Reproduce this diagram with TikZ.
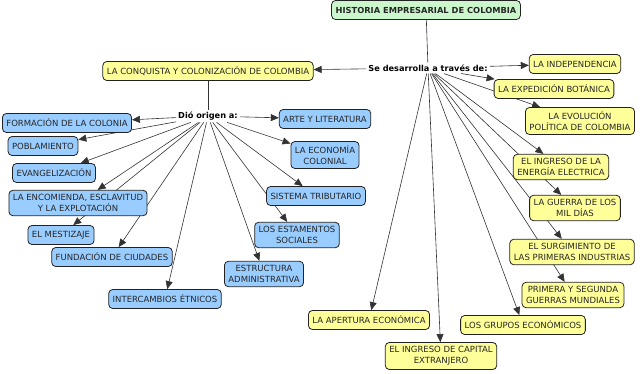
\documentclass[tikz,border=0pt]{standalone}
\usepackage{fontspec}
\setmainfont{DejaVu Sans}
\usetikzlibrary{arrows.meta,backgrounds}
\definecolor{cmGreen}{HTML}{CCF7CC}
\definecolor{cmYellow}{HTML}{FFFF99}
\definecolor{cmBlue}{HTML}{99CCFF}
\definecolor{cmLine}{HTML}{222222}
\tikzset{
    concept/.style={draw=cmLine,line width=0.8pt,rounded corners=4pt,align=center,
        inner xsep=4pt,inner ysep=4pt,minimum height=19pt,text=black!85,
        font=\fontsize{8.5}{11}\selectfont},
    rootbox/.style={concept,fill=cmGreen,font=\fontsize{8.3}{11}\selectfont\bfseries},
    eventbox/.style={concept,fill=cmYellow},
    colbox/.style={concept,fill=cmBlue},
    linkword/.style={font=\fontsize{8.2}{10}\selectfont\bfseries,inner sep=2pt},
    link/.style={black!80,line width=0.6pt},
    linkarrow/.style={link,-{Triangle[length=8pt,width=7pt]}}
}
\begin{document}
\begin{tikzpicture}[x=1pt,y=-1pt]
        \useasboundingbox (0,0) rectangle (640,374);

        % Top concept and its linking phrase
        \node[rootbox] (hist) at (426,10) {HISTORIA EMPRESARIAL DE COLOMBIA};
        \node[linkword] (se) at (428,68) {Se desarrolla a través de:};

        % Conquest branch
        \node[eventbox] (conq) at (208,71) {LA CONQUISTA Y COLONIZACIÓN DE COLOMBIA};
        \node[linkword] (dio) at (208,116) {Dió origen a:};

        % Colonial consequences
        \node[colbox] (form) at (67,123) {FORMACIÓN DE LA COLONIA};
        \node[colbox] (pobl) at (43,146) {POBLAMIENTO};
        \node[colbox] (evan) at (54,173) {EVANGELIZACIÓN};
        \node[colbox] (enco) at (78,203) {LA ENCOMIENDA, ESCLAVITUD\\Y LA EXPLOTACIÓN};
        \node[colbox] (mest) at (61,235) {EL MESTIZAJE};
        \node[colbox] (fund) at (112,257) {FUNDACIÓN DE CIUDADES};
        \node[colbox] (inter) at (165,299) {INTERCAMBIOS ÉTNICOS};
        \node[colbox] (estr) at (264,274) {ESTRUCTURA\\ADMINISTRATIVA};
        \node[colbox] (esta) at (297,235) {LOS ESTAMENTOS\\SOCIALES};
        \node[colbox] (trib) at (316,196) {SISTEMA TRIBUTARIO};
        \node[colbox] (econ) at (325,155) {LA ECONOMÍA\\COLONIAL};
        \node[colbox] (arte) at (325,119) {ARTE Y LITERATURA};

        % Later periods
        \node[eventbox] (inde) at (575,64) {LA INDEPENDENCIA};
        \node[eventbox] (expe) at (554,89) {LA EXPEDICIÓN BOTÁNICA};
        \node[eventbox] (evol) at (580,121) {LA EVOLUCIÓN\\POLÍTICA DE COLOMBIA};
        \node[eventbox] (ener) at (561,167) {EL INGRESO DE LA\\ENERGÍA ELECTRICA};
        \node[eventbox] (guer) at (575,208) {LA GUERRA DE LOS\\MIL DÍAS};
        \node[eventbox] (indu) at (572,252) {EL SURGIMIENTO DE\\LAS PRIMERAS INDUSTRIAS};
        \node[eventbox] (mund) at (573,295) {PRIMERA Y SEGUNDA\\GUERRAS MUNDIALES};
        \node[eventbox] (grup) at (523,325) {LOS GRUPOS ECONÓMICOS};
        \node[eventbox] (aper) at (369,320) {LA APERTURA ECONÓMICA};
        \node[eventbox] (capi) at (441,356) {EL INGRESO DE CAPITAL\\EXTRANJERO};

        % Connectors under the boxes
        \begin{scope}[on background layer]
            \draw[link] (hist) -- (se);
            \draw[linkarrow] (se) -- (conq);
            \draw[link] (conq) -- (dio);
            \foreach \t in {form,pobl,evan,enco,mest,fund,inter,estr,esta,trib,econ,arte}
                \draw[linkarrow] (dio) -- (\t);
            \foreach \t in {inde,expe,evol,ener,guer,indu,mund,grup,aper,capi}
                \draw[linkarrow] (se) -- (\t);
        \end{scope}
    \end{tikzpicture}
\end{document}
